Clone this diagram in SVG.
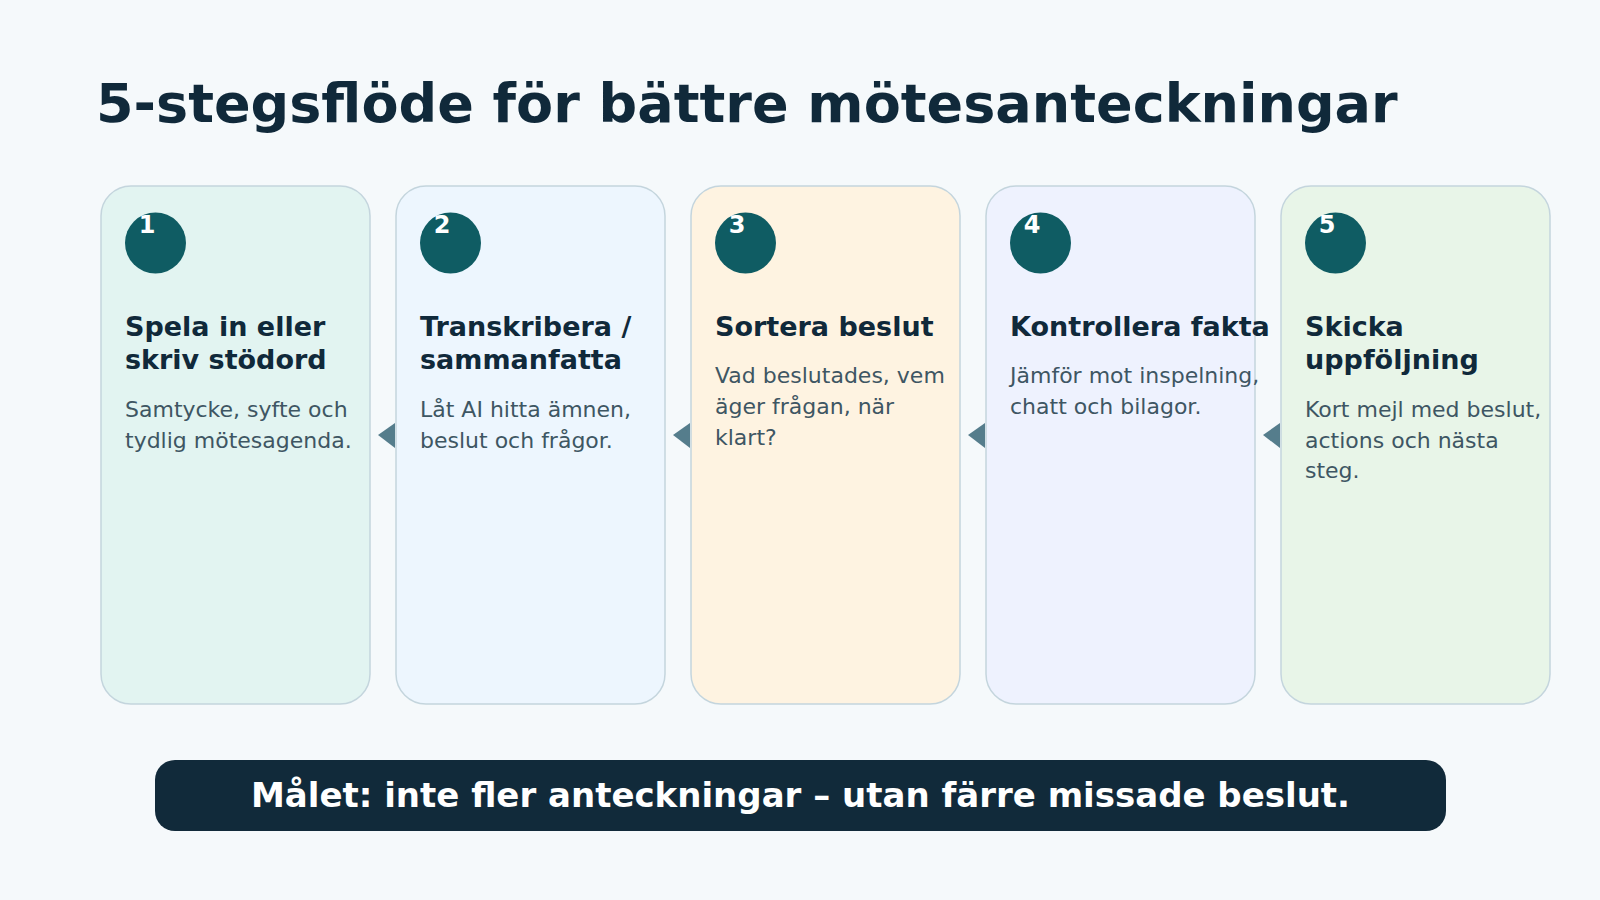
<svg xmlns="http://www.w3.org/2000/svg" width="1600" height="900" viewBox="0 0 1600 900">
<style>
.card{stroke:#c4d5dd;stroke-width:1.5}
.badge{fill:#0f5c63}
.num{font-family:"DejaVu Sans",sans-serif;font-weight:bold;font-size:24px;fill:#ffffff;text-anchor:middle}
.ttl{font-family:"DejaVu Sans",sans-serif;font-weight:bold;font-size:27px;fill:#10293a}
.desc{font-family:"DejaVu Sans",sans-serif;font-size:22px;fill:#3e5663}
.arrow{fill:#557d8c}
</style>
<rect width="1600" height="900" fill="#f5f9fb"/>
<text id="title" x="96" y="122" font-family="DejaVu Sans, sans-serif" font-weight="bold" font-size="54" fill="#10293a">5-stegsflöde för bättre mötesanteckningar</text>
<g id="connectors">
<polygon class="arrow" points="378,435 395,423 395,448"/>
<polygon class="arrow" points="673,435 690,423 690,448"/>
<polygon class="arrow" points="968,435 985,423 985,448"/>
<polygon class="arrow" points="1263,435 1280,423 1280,448"/>
</g>
<g id="step1">
<rect class="card" x="101" y="186" width="269" height="518" rx="30" fill="#e2f4f1"/>
<circle class="badge" cx="155.5" cy="243" r="30.5"/>
<text class="num" x="147" y="233">1</text>
<text class="ttl" x="125" y="336">Spela in eller</text>
<text class="ttl" x="125" y="369">skriv stödord</text>
<text class="desc" x="125" y="417">Samtycke, syfte och</text>
<text class="desc" x="125" y="448">tydlig mötesagenda.</text>
</g>
<g id="step2">
<rect class="card" x="396" y="186" width="269" height="518" rx="30" fill="#edf6fe"/>
<circle class="badge" cx="450.5" cy="243" r="30.5"/>
<text class="num" x="442" y="233">2</text>
<text class="ttl" x="420" y="336">Transkribera /</text>
<text class="ttl" x="420" y="369">sammanfatta</text>
<text class="desc" x="420" y="417">Låt AI hitta ämnen,</text>
<text class="desc" x="420" y="448">beslut och frågor.</text>
</g>
<g id="step3">
<rect class="card" x="691" y="186" width="269" height="518" rx="30" fill="#fef3e1"/>
<circle class="badge" cx="745.5" cy="243" r="30.5"/>
<text class="num" x="737" y="233">3</text>
<text class="ttl" x="715" y="336">Sortera beslut</text>
<text class="desc" x="715" y="383">Vad beslutades, vem</text>
<text class="desc" x="715" y="414">äger frågan, när</text>
<text class="desc" x="715" y="445">klart?</text>
</g>
<g id="step4">
<rect class="card" x="986" y="186" width="269" height="518" rx="30" fill="#eef2fe"/>
<circle class="badge" cx="1040.5" cy="243" r="30.5"/>
<text class="num" x="1032" y="233">4</text>
<text class="ttl" x="1010" y="336">Kontrollera fakta</text>
<text class="desc" x="1010" y="383">Jämför mot inspelning,</text>
<text class="desc" x="1010" y="414">chatt och bilagor.</text>
</g>
<g id="step5">
<rect class="card" x="1281" y="186" width="269" height="518" rx="30" fill="#e8f5e8"/>
<circle class="badge" cx="1335.5" cy="243" r="30.5"/>
<text class="num" x="1327" y="233">5</text>
<text class="ttl" x="1305" y="336">Skicka</text>
<text class="ttl" x="1305" y="369">uppföljning</text>
<text class="desc" x="1305" y="417">Kort mejl med beslut,</text>
<text class="desc" x="1305" y="448">actions och nästa</text>
<text class="desc" x="1305" y="478">steg.</text>
</g>
<g id="banner">
<rect x="155" y="760" width="1291" height="71" rx="20" fill="#112a3a"/>
<text x="800.5" y="807" font-family="DejaVu Sans, sans-serif" font-weight="bold" font-size="34" fill="#ffffff" text-anchor="middle">Målet: inte fler anteckningar – utan färre missade beslut.</text>
</g>
</svg>
